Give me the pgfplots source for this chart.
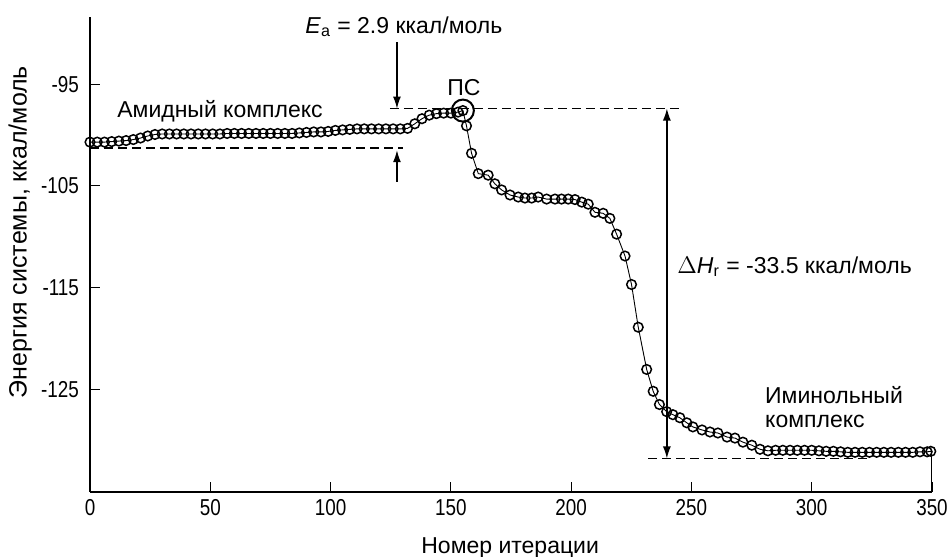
\documentclass[border=0pt]{standalone}
\usepackage{pgfplots}
\pgfplotsset{compat=1.18}
\usetikzlibrary{arrows.meta}
\usepackage{fontspec}
\setmainfont{Liberation Sans}
\newfontfamily\tickfont{Liberation Sans}[FakeStretch=0.82]

\begin{document}
\begin{tikzpicture}
\begin{axis}[
    at={(0,0)}, anchor=south west,
    scale only axis,
    width=421pt, height=237.5pt,
    xmin=0, xmax=350,
    ymin=-135.1, ymax=-88.4,
    axis lines*=left,
    axis line style={line width=0.85pt},
    tick align=inside,
    major tick length=5pt,
    tick style={line width=0.6pt, black},
    xtick={0,50,100,150,200,250,300,350},
    xticklabels={0,50,100,150,200,250,300,350},
    ytick={-125,-115,-105,-95},
    yticklabels={-125,-115,-105,-95},
    tick label style={font=\tickfont\fontsize{11.5}{12}\selectfont},
    yticklabel style={xshift=-2pt},
    xlabel={Номер итерации},
    ylabel={Энергия системы, ккал/моль},
    xlabel style={font=\fontsize{11.5}{13}\selectfont, at={(axis description cs:0.499,-0.118)}, anchor=center},
    ylabel style={font=\fontsize{12.5}{14}\selectfont, at={(axis description cs:-0.083,0.547)}, anchor=center, rotate=0},
    clip=false,
]

% energy along the iterations
\addplot[black, line width=0.45pt, mark=o, mark size=2.4pt, mark options={line width=0.75pt}]
    coordinates {(0,-100.7) (3,-100.7) (6,-100.7) (9,-100.65) (12,-100.6) (15,-100.55) (18,-100.45) (21,-100.3) (24,-100.1) (27,-99.95) (30,-99.9) (33,-99.9) (36,-99.9) (39,-99.9) (42,-99.9) (45,-99.9) (48,-99.9) (51,-99.9) (54,-99.9) (57,-99.85) (60,-99.85) (63,-99.85) (66,-99.85) (69,-99.85) (72,-99.85) (75,-99.85) (78,-99.85) (81,-99.85) (84,-99.85) (87,-99.8) (90,-99.75) (93,-99.7) (96,-99.7) (99,-99.65) (102,-99.55) (105,-99.5) (108,-99.45) (111,-99.4) (114,-99.4) (117,-99.4) (120,-99.4) (123,-99.4) (126,-99.4) (129,-99.4) (132,-99.35) (135,-98.9) (138,-98.4) (141,-98.05) (144,-97.9) (147,-97.85) (150,-97.85) (153,-97.75) (155,-97.6) (156.5,-99.1) (158.6,-101.8) (161.4,-103.8) (165.5,-103.95) (168.3,-104.8) (171.1,-105.4) (174.6,-105.9) (178,-106.1) (180.8,-106.2) (183.6,-106.2) (186.3,-106.1) (189.8,-106.3) (193.3,-106.3) (196,-106.3) (198.8,-106.3) (201.6,-106.35) (204.4,-106.6) (207.1,-106.8) (209.9,-107.6) (213.3,-107.7) (216.1,-108.2) (218.9,-109.75) (222.4,-111.9) (225.1,-114.7) (227.9,-118.9) (231.4,-123.05) (234.1,-125.2) (236.7,-126.5) (239.7,-127.2) (242.3,-127.5) (245.2,-127.8) (248.1,-128.3) (250.6,-128.7) (254.4,-129.0) (257.7,-129.2) (261,-129.3) (264.8,-129.7) (268.1,-129.8) (271.4,-130.2) (275.1,-130.5) (278.5,-130.9) (281.8,-131.05) (285,-131.0) (288,-131.0) (291,-131.0) (294,-131.0) (297,-131.0) (300,-131.0) (303,-131.05) (306,-131.1) (309,-131.1) (312,-131.15) (315,-131.2) (318,-131.2) (321,-131.2) (324,-131.2) (327,-131.2) (330,-131.2) (333,-131.2) (336,-131.2) (339,-131.2) (342,-131.2) (345,-131.15) (348,-131.15) (349.5,-131.1)};

% transition state
\addplot[black, only marks, mark=o, mark size=5.5pt, mark options={line width=1pt}]
    coordinates {(155,-97.6)};

% reference levels
\addplot[black, line width=0.75pt, dash pattern=on 4.5pt off 2.5pt] coordinates {(0,-101.3) (130,-101.3)};
\addplot[black, line width=0.75pt, dash pattern=on 4.5pt off 2.5pt] coordinates {(124.7,-97.4) (246.5,-97.4)};
\addplot[black, line width=0.75pt, dash pattern=on 4.5pt off 2.5pt] coordinates {(232,-131.8) (323,-131.8)};
\addplot[black, line width=0.5pt] coordinates {(350,-131.0) (350,-135.1)};

% arrows
\draw[black, line width=0.65pt, -{Latex[length=6pt,width=4pt]}] (axis cs:127.6,-90.9) -- (axis cs:127.6,-97.4);
\draw[black, line width=0.65pt, -{Latex[length=6pt,width=4pt]}] (axis cs:127.6,-104.6) -- (axis cs:127.6,-101.5);
\draw[black, line width=0.65pt, {Latex[length=6pt,width=4pt]}-{Latex[length=6pt,width=4pt]}] (axis cs:239.8,-97.4) -- (axis cs:239.8,-131.8);

% labels
\node[anchor=base west, inner sep=0pt, font=\fontsize{11.5}{13}\selectfont] at (axis cs:89.4,-90.0) {\textit{E}\textsubscript{a} = 2.9 ккал/моль};
\node[anchor=base, inner sep=0pt, font=\fontsize{11.5}{13}\selectfont] at (axis cs:155.4,-96.1) {ПС};
\node[anchor=base west, inner sep=0pt, font=\fontsize{11.5}{13}\selectfont] at (axis cs:11.2,-98.25) {Амидный комплекс};
\node[anchor=base west, inner sep=0pt, font=\fontsize{11.5}{13}\selectfont] at (axis cs:244,-113.6) {$\Delta$\textit{H}\textsubscript{r} = -33.5 ккал/моль};
\node[anchor=base west, inner sep=0pt, font=\fontsize{11.5}{13}\selectfont] at (axis cs:280.5,-126.4) {Иминольный};
\node[anchor=base west, inner sep=0pt, font=\fontsize{11.5}{13}\selectfont] at (axis cs:280.5,-128.8) {комплекс};

\end{axis}
\pgfresetboundingbox
\path[use as bounding box] (-45pt,-32.5pt) rectangle (430pt,246pt);
\end{tikzpicture}
\end{document}
